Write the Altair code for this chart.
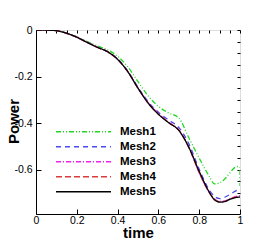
import altair as alt
import pandas as pd

# time samples
t_1 = [0, 0.05, 0.1, 0.15, 0.2, 0.25, 0.3, 0.35, 0.4, 0.45, 0.5, 0.55, 0.6, 0.65,
       0.7, 0.75, 0.8, 0.85, 0.875, 0.9, 0.925, 0.95, 0.975, 0.99, 1.0, 1.0]
t = [0, 0.05, 0.1, 0.15, 0.2, 0.25, 0.3, 0.35, 0.4, 0.45, 0.5, 0.55, 0.6, 0.65,
     0.7, 0.75, 0.8, 0.85, 0.875, 0.9, 0.925, 0.95, 0.975, 1.0]

mesh1 = [0, -0.0005, -0.003, -0.013, -0.029, -0.049, -0.068, -0.085, -0.113, -0.158,
         -0.222, -0.283, -0.328, -0.356, -0.378, -0.464, -0.55, -0.629, -0.661, -0.656,
         -0.64, -0.614, -0.59, -0.586, -0.59, -0.67]
mesh2 = [0, -0.0005, -0.003, -0.014, -0.031, -0.052, -0.073, -0.092, -0.124, -0.176,
         -0.246, -0.308, -0.353, -0.387, -0.418, -0.49, -0.598, -0.688, -0.714, -0.724,
         -0.718, -0.706, -0.693, -0.682]
mesh3 = [0, -0.0005, -0.003, -0.014, -0.031, -0.053, -0.074, -0.093, -0.126, -0.178,
         -0.249, -0.313, -0.359, -0.396, -0.429, -0.505, -0.612, -0.698, -0.726, -0.736,
         -0.734, -0.724, -0.716, -0.711]
mesh4 = [0, -0.0005, -0.003, -0.014, -0.031, -0.053, -0.074, -0.093, -0.126, -0.179,
         -0.25, -0.314, -0.36, -0.397, -0.43, -0.506, -0.613, -0.699, -0.727, -0.737,
         -0.736, -0.726, -0.718, -0.714]
mesh5 = [0, -0.0005, -0.003, -0.014, -0.031, -0.053, -0.074, -0.093, -0.126, -0.179,
         -0.25, -0.314, -0.362, -0.398, -0.431, -0.505, -0.607, -0.697, -0.729, -0.739,
         -0.737, -0.727, -0.72, -0.717]

names = ["Mesh1", "Mesh2", "Mesh3", "Mesh4", "Mesh5"]
colors = ["#22d822", "#4a4aee", "#ee22ee", "#dd3b3b", "#000000"]
dashes = [[5, 2, 1, 2, 1, 2], [5, 4], [5, 2, 1, 2], [6, 3], [1, 0]]

x_major = [0, 0.2, 0.4, 0.6, 0.8, 1.0]
x_minor = [i * 0.05 for i in range(21)]
y_major = [0, -0.2, -0.4, -0.6]
y_minor = [-i * 0.05 for i in range(16)]

rows = []
for name, xs, ys in zip(names, [t_1, t, t, t, t], [mesh1, mesh2, mesh3, mesh4, mesh5]):
    for i, (xv, yv) in enumerate(zip(xs, ys)):
        rows.append({"series": name, "time": xv, "power": yv, "idx": i})
df = pd.DataFrame(rows)

FONT = "Liberation Sans"
NARROW = "'Liberation Sans Narrow', 'Arial Narrow', 'Liberation Sans'"

xscale = alt.Scale(domain=[0, 1], nice=False, zero=False)
yscale = alt.Scale(domain=[-0.79, 0], nice=False, zero=False)

legend = alt.Legend(
    title=None, orient="none", legendX=19, legendY=94.4,
    symbolType="stroke", symbolSize=3025, symbolStrokeWidth=1.4,
    clipHeight=14.6, rowPadding=0, labelOffset=8,
    labelFont=NARROW, labelFontSize=11.5, labelFontWeight="bold",
    labelColor="black", padding=0)

lines = alt.Chart(df).mark_line(strokeWidth=1.3, interpolate="monotone", clip=True).encode(
    x=alt.X("time:Q", scale=xscale, axis=alt.Axis(
        values=x_major, title="time", grid=False,
        labelExpr="datum.value == 0 ? '0' : datum.value == 1 ? '1' : format(datum.value, '.1f')",
        tickSize={"expr": "-5"}, labelPadding=6.5, tickColor="black", domainColor="black",
        labelColor="black", labelFont=NARROW, labelFontSize=10.5,
        titleFont=FONT, titleFontSize=15, titleFontWeight="bold", titleColor="black",
        titleX=102, titleY=23.5, titleBaseline="alphabetic", titleAlign="center",
        labelFlush=False)),
    y=alt.Y("power:Q", scale=yscale, axis=alt.Axis(
        values=y_major, title="Power", grid=False,
        labelExpr="datum.value == 0 ? '0' : '-' + format(abs(datum.value), '.1f')",
        tickSize={"expr": "-5"}, labelPadding=9, tickColor="black", domainColor="black",
        labelColor="black", labelFont=NARROW, labelFontSize=10.5,
        titleFont=FONT, titleFontSize=15, titleFontWeight="bold", titleColor="black",
        titleX=-17.3, titleY=91, titleBaseline="alphabetic", titleAlign="center",
        titleAngle=270, labelFlush=False)),
    color=alt.Color("series:N", scale=alt.Scale(domain=names, range=colors), legend=legend),
    strokeDash=alt.StrokeDash("series:N", scale=alt.Scale(domain=names, range=dashes),
                              legend=legend),
    order="idx:Q",
)

minor = alt.Chart(df).mark_line(opacity=0).encode(
    x=alt.X("time:Q", scale=xscale, axis=alt.Axis(
        values=x_minor, title=None, labels=False, domain=False, grid=False,
        tickSize={"expr": "-3"}, tickColor="black")),
    y=alt.Y("power:Q", scale=yscale, axis=alt.Axis(
        values=y_minor, title=None, labels=False, domain=False, grid=False,
        tickSize={"expr": "-3"}, tickColor="black")),
    detail="series:N",
)

chart = alt.layer(lines, minor).resolve_axis(x="independent", y="independent").properties(
    width=204, height=184, autosize=alt.AutoSizeParams(type="none"),
    padding={"left": 28, "top": 22, "right": 25, "bottom": 26},
).configure_view(stroke=None).configure(background="white")

chart.save("out.html", embed_options={"renderer": "svg", "actions": False})
